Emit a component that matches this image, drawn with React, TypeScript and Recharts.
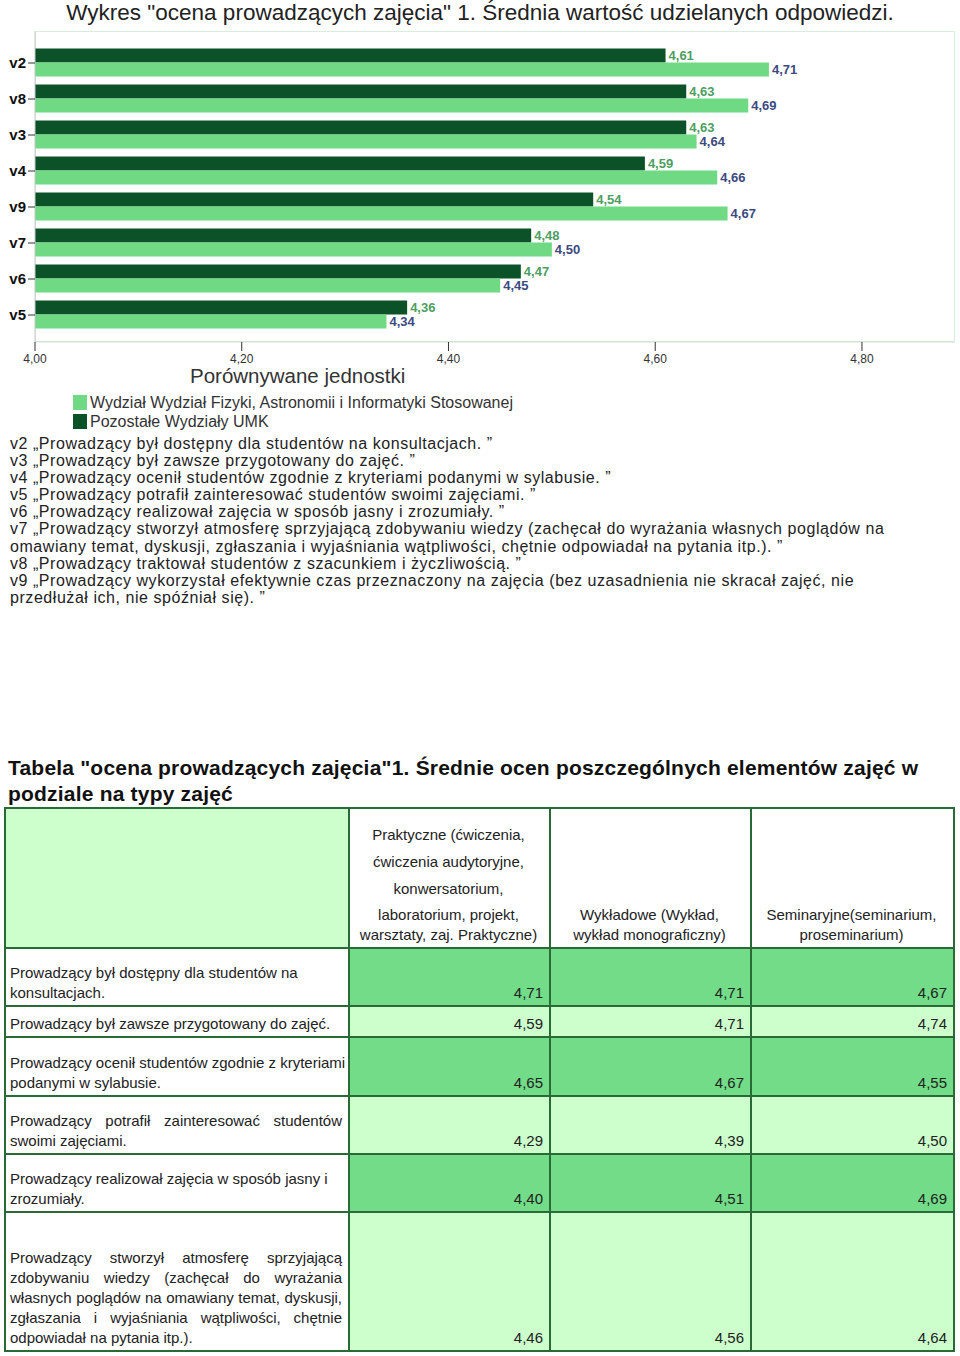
import React from 'react';
import { BarChart, Bar, XAxis, YAxis, LabelList, Legend } from 'recharts';

// chart data
const categories = ['v2', 'v8', 'v3', 'v4', 'v9', 'v7', 'v6', 'v5'];
const otherFaculties = [4.61, 4.63, 4.63, 4.59, 4.54, 4.48, 4.47, 4.36];
const physicsFaculty = [4.71, 4.69, 4.64, 4.66, 4.67, 4.5, 4.45, 4.34];
const xTicks = [4.0, 4.2, 4.4, 4.6, 4.8];
const otherName = 'Pozostałe Wydziały UMK';
const physicsName = 'Wydział Wydział Fizyki, Astronomii i Informatyki Stosowanej';

const notes = [
    'v2 „Prowadzący był dostępny dla studentów na konsultacjach. ”',
    'v3 „Prowadzący był zawsze przygotowany do zajęć. ”',
    'v4 „Prowadzący ocenił studentów zgodnie z kryteriami podanymi w sylabusie. ”',
    'v5 „Prowadzący potrafił zainteresować studentów swoimi zajęciami. ”',
    'v6 „Prowadzący realizował zajęcia w sposób jasny i zrozumiały. ”',
    'v7 „Prowadzący stworzył atmosferę sprzyjającą zdobywaniu wiedzy (zachęcał do wyrażania własnych poglądów na',
    'omawiany temat, dyskusji, zgłaszania i wyjaśniania wątpliwości, chętnie odpowiadał na pytania itp.). ”',
    'v8 „Prowadzący traktował studentów z szacunkiem i życzliwością. ”',
    'v9 „Prowadzący wykorzystał efektywnie czas przeznaczony na zajęcia (bez uzasadnienia nie skracał zajęć, nie',
    'przedłużał ich, nie spóźniał się). ”',
];

// table data
const tableHeaders = [
    ['Praktyczne (ćwiczenia,', 'ćwiczenia audytoryjne,', 'konwersatorium,', 'laboratorium, projekt,', 'warsztaty, zaj. Praktyczne)'],
    ['Wykładowe (Wykład,', 'wykład monograficzny)'],
    ['Seminaryjne(seminarium,', 'proseminarium)'],
];
const rowLabels = [
    ['Prowadzący był dostępny dla studentów na', 'konsultacjach.'],
    ['Prowadzący był zawsze przygotowany do zajęć.'],
    ['Prowadzący ocenił studentów zgodnie z kryteriami', 'podanymi w sylabusie.'],
    ['Prowadzący potrafił zainteresować studentów', 'swoimi zajęciami.'],
    ['Prowadzący realizował zajęcia w sposób jasny i', 'zrozumiały.'],
    [
        'Prowadzący stworzył atmosferę sprzyjającą',
        'zdobywaniu wiedzy (zachęcał do wyrażania',
        'własnych poglądów na omawiany temat, dyskusji,',
        'zgłaszania i wyjaśniania wątpliwości, chętnie',
        'odpowiadał na pytania itp.).',
    ],
];
const justifiedRows = [false, false, false, true, false, true];
const practicalValues = [4.71, 4.59, 4.65, 4.29, 4.4, 4.46];
const lectureValues = [4.71, 4.71, 4.67, 4.39, 4.51, 4.56];
const seminarValues = [4.67, 4.74, 4.55, 4.5, 4.69, 4.64];

const chartData = categories.map((name, i) => ({
    name,
    other: otherFaculties[i],
    physics: physicsFaculty[i],
}));

const fmt = (v: any) => Number(v).toFixed(2).replace('.', ',');

const FONT = '"Liberation Sans", Arial, sans-serif';
const DARK = '#0c5229';
const LIGHT = '#6fd983';
const BORDER = '#2a6a36';

// chart layout
const W = 960;
const H = 440;
const M = { top: 31, right: 5, left: 0, bottom: 68 };
const Y_W = 35;
const X_H = 30;

const renderLegend = (props: any) => {
    const items = [...(props.payload || [])].reverse();
    return (
        <div style={{ position: 'relative', width: 960, height: 75, fontFamily: FONT }}>
            <div style={{ position: 'absolute', left: 190, top: 4, fontSize: 20.5, lineHeight: '23px', color: '#333' }}>
                Porównywane jednostki
            </div>
            {items.map((it: any, i: number) => (
                <div key={i} style={{ position: 'absolute', left: 73, top: 35 + i * 19, height: 15, display: 'flex', alignItems: 'center' }}>
                    <span style={{ display: 'inline-block', width: 14, height: 15, background: it.color, marginRight: 3 }} />
                    <span style={{ fontSize: 16, color: '#333', whiteSpace: 'nowrap' }}>{it.value}</span>
                </div>
            ))}
        </div>
    );
};

const cell: React.CSSProperties = {
    border: `2px solid ${BORDER}`,
    verticalAlign: 'bottom',
    padding: '0 6px 2px 4px',
    fontSize: 15,
    lineHeight: '20px',
    color: '#222',
};

const rowHeights = [58, 31, 59, 58, 58, 139];

const App: React.FC = () => {
    return (
        <div style={{ position: 'absolute', left: 0, top: 0, width: 960, height: 1356, background: '#fff', fontFamily: FONT }}>
            <div style={{ position: 'absolute', left: 0, top: 0, width: 960, textAlign: 'center', fontSize: 22.5, lineHeight: '26px', color: '#222' }}>
                Wykres "ocena prowadzących zajęcia" 1. Średnia wartość udzielanych odpowiedzi.
            </div>

            {/* plot frame */}
            <div
                style={{
                    position: 'absolute',
                    left: M.left + Y_W,
                    top: M.top,
                    width: W - M.left - Y_W - M.right,
                    height: H - M.top - M.bottom - X_H,
                    border: '1px solid #d6eedb',
                    boxSizing: 'border-box',
                }}
            />

            <div style={{ position: 'absolute', left: 0, top: 0 }}>
                <BarChart width={W} height={H} data={chartData} layout="vertical" margin={M} barCategoryGap="10%" barGap={0}>
                    <XAxis
                        type="number"
                        domain={[4, 4.89]}
                        ticks={xTicks}
                        allowDataOverflow
                        height={X_H}
                        tickFormatter={fmt}
                        tickSize={9}
                        tickMargin={3}
                        axisLine={{ stroke: '#cfe0d2' }}
                        tickLine={{ stroke: '#333' }}
                        tick={{ fill: '#333', fontSize: 12, fontFamily: FONT }}
                    />
                    <YAxis
                        type="category"
                        dataKey="name"
                        width={Y_W}
                        padding={{ top: 14, bottom: 9 }}
                        tickSize={7}
                        tickMargin={2}
                        axisLine={{ stroke: '#c8c8c8' }}
                        tickLine={{ stroke: '#333' }}
                        tick={{ fill: '#111', fontSize: 15, fontWeight: 'bold', fontFamily: FONT }}
                    />
                    <Legend
                        content={renderLegend}
                        layout="horizontal"
                        verticalAlign="middle"
                        align="center"
                        wrapperStyle={{ left: 0, top: 360, width: 960, height: 75 }}
                    />
                    <Bar dataKey="other" name={otherName} fill={DARK} isAnimationActive={false}>
                        <LabelList
                            dataKey="other"
                            position="right"
                            offset={3}
                            formatter={fmt}
                            fill="#4d9e62"
                            style={{ fontSize: 13, fontWeight: 'bold', fontFamily: FONT }}
                        />
                    </Bar>
                    <Bar dataKey="physics" name={physicsName} fill={LIGHT} isAnimationActive={false}>
                        <LabelList
                            dataKey="physics"
                            position="right"
                            offset={3}
                            formatter={fmt}
                            fill="#3c4a80"
                            style={{ fontSize: 13, fontWeight: 'bold', fontFamily: FONT }}
                        />
                    </Bar>
                </BarChart>
            </div>

            {/* question list */}
            <div
                style={{
                    position: 'absolute',
                    left: 10,
                    top: 435,
                    fontSize: 16,
                    letterSpacing: 0.55,
                    lineHeight: '17.1px',
                    color: '#222',
                    whiteSpace: 'nowrap',
                }}
            >
                {notes.map((n, i) => (
                    <div key={i}>{n}</div>
                ))}
            </div>

            {/* table */}
            <div style={{ position: 'absolute', left: 8, top: 755, fontSize: 21, fontWeight: 'bold', lineHeight: '26px', letterSpacing: 0.2, color: '#111', whiteSpace: 'nowrap' }}>
                <div>Tabela "ocena prowadzących zajęcia"1. Średnie ocen poszczególnych elementów zajęć w</div>
                <div>podziale na typy zajęć</div>
            </div>

            <table
                style={{
                    position: 'absolute',
                    left: 4,
                    top: 807,
                    width: 949,
                    borderCollapse: 'collapse',
                    tableLayout: 'fixed',
                    fontFamily: FONT,
                }}
            >
                <colgroup>
                    <col style={{ width: 344 }} />
                    <col style={{ width: 201 }} />
                    <col style={{ width: 201 }} />
                    <col style={{ width: 203 }} />
                </colgroup>
                <tbody>
                    <tr style={{ height: 140 }}>
                        <td style={{ ...cell, background: '#ccffcc' }} />
                        <td style={{ ...cell, textAlign: 'center' }}>
                            <div style={{ lineHeight: '27px', marginBottom: 3 }}>
                                {tableHeaders[0].slice(0, 3).map((t, i) => (
                                    <div key={i}>{t}</div>
                                ))}
                            </div>
                            {tableHeaders[0].slice(3).map((t, i) => (
                                <div key={i}>{t}</div>
                            ))}
                        </td>
                        {tableHeaders.slice(1).map((h, j) => (
                            <td key={j} style={{ ...cell, textAlign: 'center' }}>
                                {h.map((t, i) => (
                                    <div key={i}>{t}</div>
                                ))}
                            </td>
                        ))}
                    </tr>
                    {rowLabels.map((lines, r) => {
                        const bg = r % 2 === 0 ? '#72dc88' : '#ccffcc';
                        return (
                            <tr key={r} style={{ height: rowHeights[r] }}>
                                <td style={{ ...cell, whiteSpace: 'nowrap' }}>
                                    {lines.map((t, i) => (
                                        <div
                                            key={i}
                                            style={{
                                                textAlign: justifiedRows[r] && i < lines.length - 1 ? 'justify' : 'left',
                                                textAlignLast: justifiedRows[r] && i < lines.length - 1 ? 'justify' : 'left',
                                                whiteSpace: justifiedRows[r] ? 'normal' : 'nowrap',
                                            }}
                                        >
                                            {t}
                                        </div>
                                    ))}
                                </td>
                                {[practicalValues, lectureValues, seminarValues].map((vals, c) => (
                                    <td key={c} style={{ ...cell, background: bg, textAlign: 'right' }}>
                                        {fmt(vals[r])}
                                    </td>
                                ))}
                            </tr>
                        );
                    })}
                </tbody>
            </table>
        </div>
    );
};

export default App;
